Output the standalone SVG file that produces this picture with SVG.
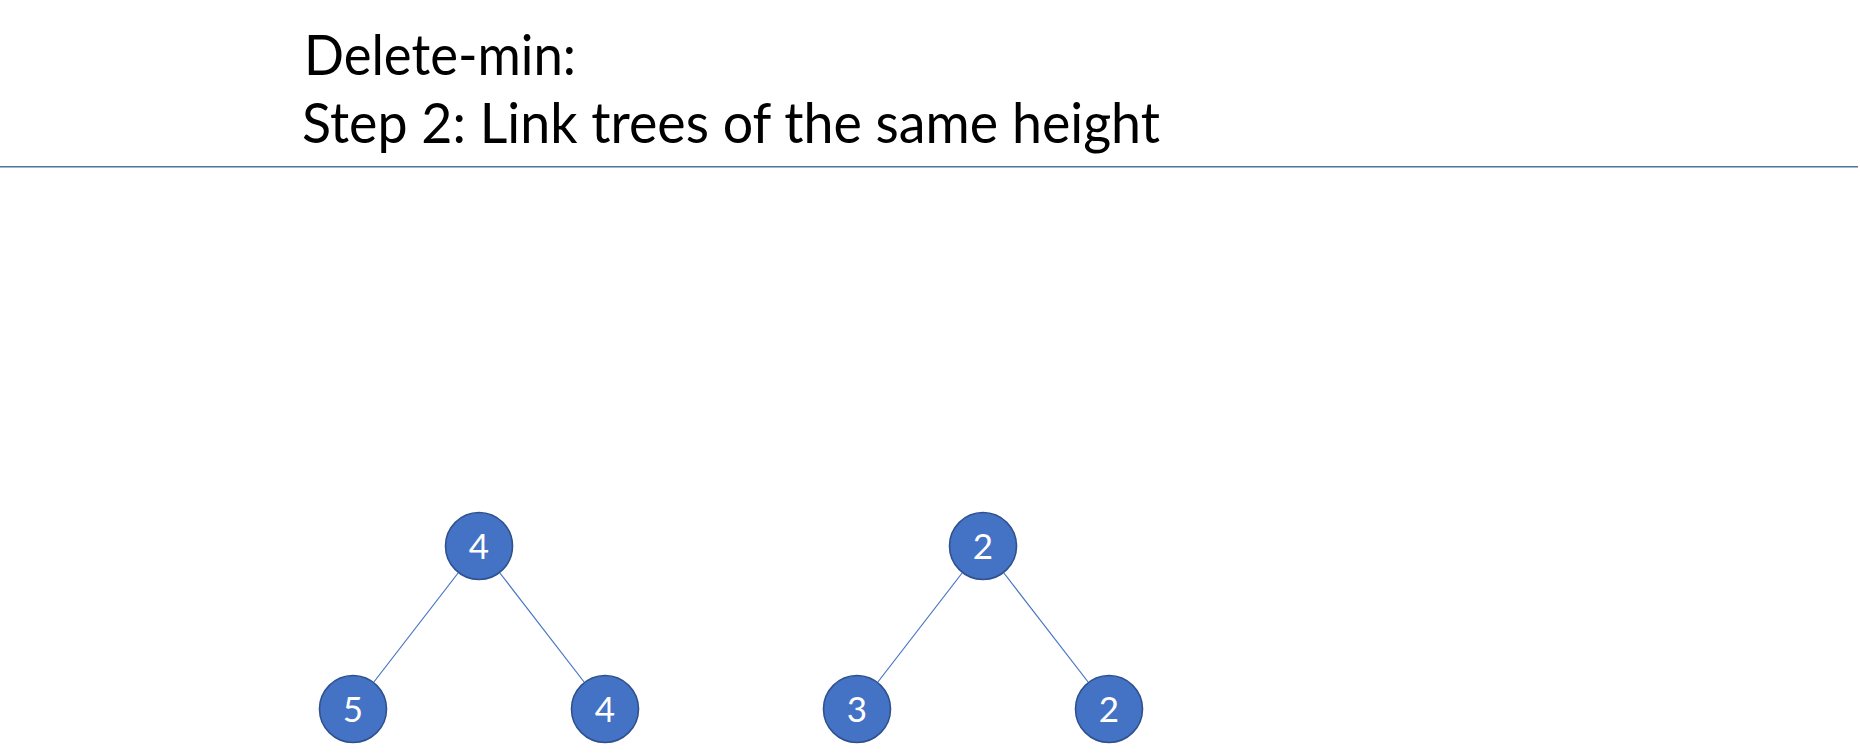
<svg xmlns="http://www.w3.org/2000/svg" width="1860" height="754" viewBox="0 0 1860 754">
<style>
.title{font-family:Lato,"Open Sans","Liberation Sans",sans-serif;font-size:57px;fill:#000}
.node circle{fill:#4472C4;stroke:#2F528F;stroke-width:1.6}
.node text{font-family:Lato,"Open Sans","Liberation Sans",sans-serif;font-size:35px;fill:#fff;text-anchor:middle}
.edge{stroke:#4472C4;stroke-width:1.2}
</style>
<rect width="1860" height="754" fill="#fff"/>
<g id="title">
<text class="title" x="304" y="75" textLength="272" lengthAdjust="spacingAndGlyphs">Delete-min:</text>
<text class="title" x="302" y="143" textLength="858" lengthAdjust="spacingAndGlyphs">Step 2: Link trees of the same height</text>
<line x1="0" y1="166.7" x2="1858" y2="166.7" stroke="#4F7399" stroke-width="1.5"/>
</g>
<g id="connectors">
<line class="edge" x1="458.5" y1="572.5" x2="373.5" y2="682.5"/>
<line class="edge" x1="499.5" y1="572.5" x2="584.5" y2="682.5"/>
<line class="edge" x1="962.5" y1="572.5" x2="877.5" y2="682.5"/>
<line class="edge" x1="1003.5" y1="572.5" x2="1088.5" y2="682.5"/>
</g>
<g id="n1" class="node"><circle cx="479" cy="546" r="33.5"/><text x="479" y="558.5">4</text></g>
<g id="n2" class="node"><circle cx="353" cy="709" r="33.5"/><text x="353" y="721.5">5</text></g>
<g id="n3" class="node"><circle cx="605" cy="709" r="33.5"/><text x="605" y="721.5">4</text></g>
<g id="n4" class="node"><circle cx="983" cy="546" r="33.5"/><text x="983" y="558.5">2</text></g>
<g id="n5" class="node"><circle cx="857" cy="709" r="33.5"/><text x="857" y="721.5">3</text></g>
<g id="n6" class="node"><circle cx="1109" cy="709" r="33.5"/><text x="1109" y="721.5">2</text></g>
</svg>
